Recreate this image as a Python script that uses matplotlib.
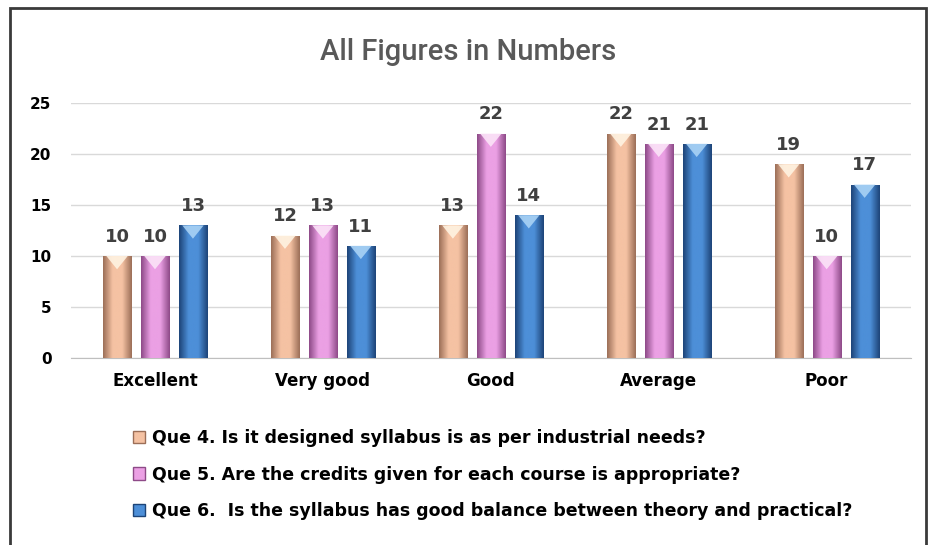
import numpy as np
import matplotlib
matplotlib.use('Agg')
import matplotlib.pyplot as plt
from matplotlib.patches import Rectangle, Polygon
from matplotlib.colors import LinearSegmentedColormap

categories = ['Excellent', 'Very good', 'Good', 'Average', 'Poor']
series_names = [
    'Que 4. Is it designed syllabus is as per industrial needs?',
    'Que 5. Are the credits given for each course is appropriate?',
    'Que 6.  Is the syllabus has good balance between theory and practical?',
]
que4 = [10, 12, 13, 22, 19]
que5 = [10, 13, 22, 21, 10]
que6 = [13, 11, 14, 21, 17]
yticks = [0, 5, 10, 15, 20, 25]

# (dark edge, light centre, highlight)
palette = [
    ('#9c6f58', '#f5c2a3', '#fff3e2'),
    ('#8e4a88', '#eba0e4', '#fbe3f8'),
    ('#1d4478', '#4d8fd8', '#a9d2f5'),
]

fig = plt.figure(figsize=(9.36, 5.45), dpi=100)
ax = fig.add_axes([0.0759, 0.343, 0.897, 0.468])

x = np.arange(len(categories))
width = 0.167
offset = 0.226

for i, vals in enumerate([que4, que5, que6]):
    dark, light, hi = palette[i]
    cmap = LinearSegmentedColormap.from_list('b%d' % i, [dark, light, light, dark])
    bars = ax.bar(x + (i - 1) * offset, vals, width, color=light, zorder=2,
                  label=series_names[i])
    for b in bars:
        x0, y0 = b.get_x(), b.get_y()
        w, h = b.get_width(), b.get_height()
        grad = np.linspace(0, 1, 64).reshape(1, -1)
        im = ax.imshow(grad, cmap=cmap, aspect='auto', extent=(x0, x0 + w, y0, y0 + h),
                       zorder=3, interpolation='bicubic')
        im.set_clip_path(b)
        tri = Polygon([(x0 + 0.12 * w, y0 + h), (x0 + 0.88 * w, y0 + h),
                       (x0 + 0.5 * w, y0 + h - 1.3)], closed=True,
                      facecolor=hi, edgecolor='none', alpha=0.9, zorder=4)
        ax.add_patch(tri)
        ax.text(x0 + w / 2, y0 + h + 1.0, '%d' % h, ha='center', va='bottom',
                fontsize=13, fontweight='bold', color='#404040', zorder=5)

ax.set_xlim(-0.5, len(categories) - 0.5)
ax.set_ylim(0, 25)
ax.set_yticks(yticks)
ax.set_xticks(x)
ax.set_xticklabels(categories, fontsize=12, fontweight='bold')
ax.tick_params(axis='y', labelsize=11, length=0, pad=14)
ax.tick_params(axis='x', length=0, pad=10)
for lab in ax.get_yticklabels():
    lab.set_fontweight('bold')
ax.grid(axis='y', color='#d9d9d9', lw=1, zorder=0)
ax.set_axisbelow(True)
for s in ['top', 'right', 'left']:
    ax.spines[s].set_visible(False)
ax.spines['bottom'].set_color('#bfbfbf')

fig.text(0.5, 0.905, 'All Figures in Numbers', ha='center', va='center',
         fontsize=21, fontweight='medium', color='#595959', family='Roboto',
         fontstretch='condensed')

handles = [Rectangle((0, 0), 1, 1, facecolor=palette[i][1], edgecolor=palette[i][0])
           for i in range(3)]
fig.legend(handles, series_names, loc='upper left', bbox_to_anchor=(0.135, 0.225),
           ncol=1, frameon=False, prop={'size': 12.5, 'weight': 'bold'},
           handlelength=0.7, handleheight=0.7, handletextpad=0.4, labelspacing=1.05,
           borderaxespad=0)

fig.patches.append(Rectangle((0.011, -0.02), 0.978, 1.005, transform=fig.transFigure,
                             fill=False, edgecolor='#3a3a3a', lw=2))

fig.savefig('out.png', dpi=100)
